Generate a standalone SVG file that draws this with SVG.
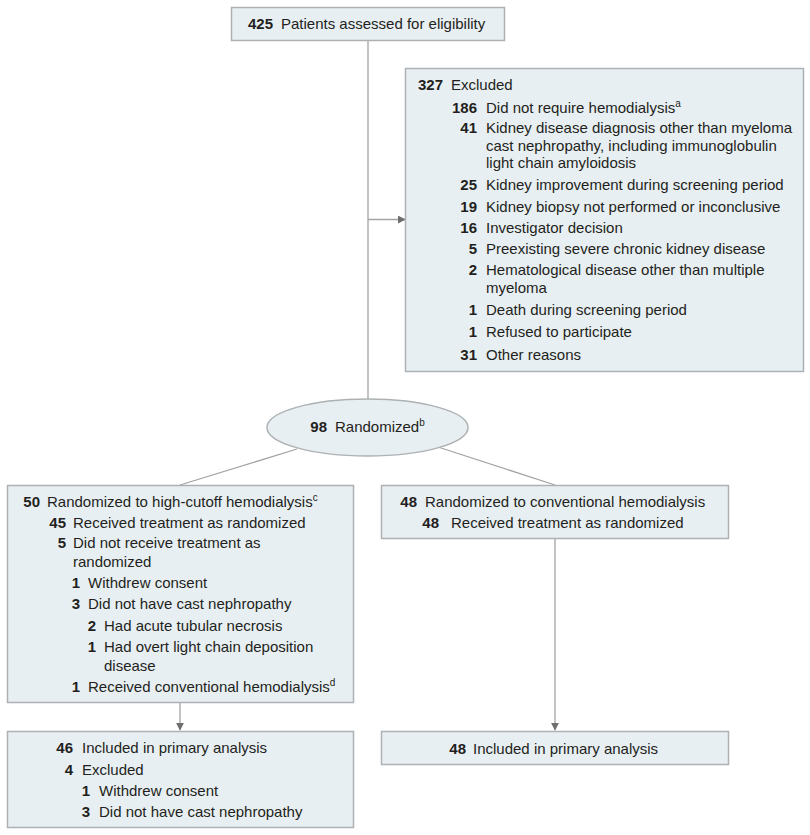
<svg xmlns="http://www.w3.org/2000/svg" width="810" height="835" viewBox="0 0 810 835">
<style>
.box{fill:#e8eff3;stroke:#adb1b3;stroke-width:1.5}
text{font-family:"Liberation Sans",Arial,sans-serif;font-size:15px;fill:#231f20}
.n{font-weight:bold;text-anchor:end}
.ln{stroke:#a3a3a3;stroke-width:1.3;fill:none}
.sup{font-size:10px}
</style>
<defs>
<marker id="ah" viewBox="0 0 10 10" refX="9" refY="5" markerWidth="8" markerHeight="8" markerUnits="userSpaceOnUse" orient="auto">
<path d="M0,0 L10,5 L0,10 Z" fill="#6d6e70"/>
</marker>
</defs>
<rect width="810" height="835" fill="#ffffff"/>
<g id="connectors">
<line class="ln" x1="368" y1="40" x2="368" y2="399"/>
<line class="ln" x1="368" y1="219.5" x2="405" y2="219.5" marker-end="url(#ah)"/>
<line class="ln" x1="297" y1="449" x2="180" y2="485"/>
<line class="ln" x1="438" y1="447" x2="555" y2="485"/>
<line class="ln" x1="180" y1="703" x2="180" y2="730" marker-end="url(#ah)"/>
<line class="ln" x1="555" y1="539" x2="555" y2="730" marker-end="url(#ah)"/>
</g>
<g id="assessed">
<rect class="box" x="231.5" y="7.5" width="273" height="33"/>
<text x="273" y="29" class="n">425</text>
<text x="281" y="29">Patients assessed for eligibility</text>
</g>
<g id="excluded">
<rect class="box" x="405.5" y="68.5" width="398" height="303"/>
<text x="443" y="90" class="n">327</text><text x="451" y="90">Excluded</text>
<text x="477" y="113" class="n">186</text><text x="486" y="113">Did not require hemodialysis<tspan class="sup" dy="-6">a</tspan></text>
<text x="477" y="133" class="n">41</text><text x="486" y="133">Kidney disease diagnosis other than myeloma</text>
<text x="486" y="151">cast nephropathy, including immunoglobulin</text>
<text x="486" y="168">light chain amyloidosis</text>
<text x="477" y="190" class="n">25</text><text x="486" y="190">Kidney improvement during screening period</text>
<text x="477" y="212" class="n">19</text><text x="486" y="212">Kidney biopsy not performed or inconclusive</text>
<text x="477" y="233" class="n">16</text><text x="486" y="233">Investigator decision</text>
<text x="477" y="254" class="n">5</text><text x="486" y="254">Preexisting severe chronic kidney disease</text>
<text x="477" y="275" class="n">2</text><text x="486" y="275">Hematological disease other than multiple</text>
<text x="486" y="293">myeloma</text>
<text x="477" y="315" class="n">1</text><text x="486" y="315">Death during screening period</text>
<text x="477" y="337" class="n">1</text><text x="486" y="337">Refused to participate</text>
<text x="477" y="360" class="n">31</text><text x="486" y="360">Other reasons</text>
</g>
<g id="randomized">
<ellipse cx="367.5" cy="427.5" rx="100.5" ry="28.5" fill="#e8eff3" stroke="#adb1b3" stroke-width="1.5"/>
<text x="327" y="432" class="n">98</text>
<text x="335" y="432">Randomized<tspan class="sup" dy="-6">b</tspan></text>
</g>
<g id="highcutoff">
<rect class="box" x="7.5" y="485.5" width="346" height="217"/>
<text x="40" y="507" class="n">50</text><text x="47" y="507">Randomized to high-cutoff hemodialysis<tspan class="sup" dy="-6">c</tspan></text>
<text x="66" y="528" class="n">45</text><text x="73" y="528">Received treatment as randomized</text>
<text x="66" y="548" class="n">5</text><text x="73" y="548">Did not receive treatment as</text>
<text x="73" y="567">randomized</text>
<text x="80" y="588" class="n">1</text><text x="88" y="588">Withdrew consent</text>
<text x="80" y="609" class="n">3</text><text x="88" y="609">Did not have cast nephropathy</text>
<text x="96" y="631" class="n">2</text><text x="104" y="631">Had acute tubular necrosis</text>
<text x="96" y="652" class="n">1</text><text x="104" y="652">Had overt light chain deposition</text>
<text x="104" y="671">disease</text>
<text x="80" y="692" class="n">1</text><text x="88" y="692">Received conventional hemodialysis<tspan class="sup" dy="-6">d</tspan></text>
</g>
<g id="conventional">
<rect class="box" x="381.5" y="485.5" width="347" height="53"/>
<text x="417" y="507" class="n">48</text><text x="425" y="507">Randomized to conventional hemodialysis</text>
<text x="439" y="528" class="n">48</text><text x="451" y="528">Received treatment as randomized</text>
</g>
<g id="analysis-left">
<rect class="box" x="7.5" y="731.5" width="346" height="96"/>
<text x="73" y="753" class="n">46</text><text x="82" y="753">Included in primary analysis</text>
<text x="73" y="775" class="n">4</text><text x="82" y="775">Excluded</text>
<text x="90" y="796" class="n">1</text><text x="99" y="796">Withdrew consent</text>
<text x="90" y="817" class="n">3</text><text x="99" y="817">Did not have cast nephropathy</text>
</g>
<g id="analysis-right">
<rect class="box" x="381.5" y="731.5" width="347" height="33"/>
<text x="466" y="754" class="n">48</text><text x="473" y="754">Included in primary analysis</text>
</g>
</svg>
